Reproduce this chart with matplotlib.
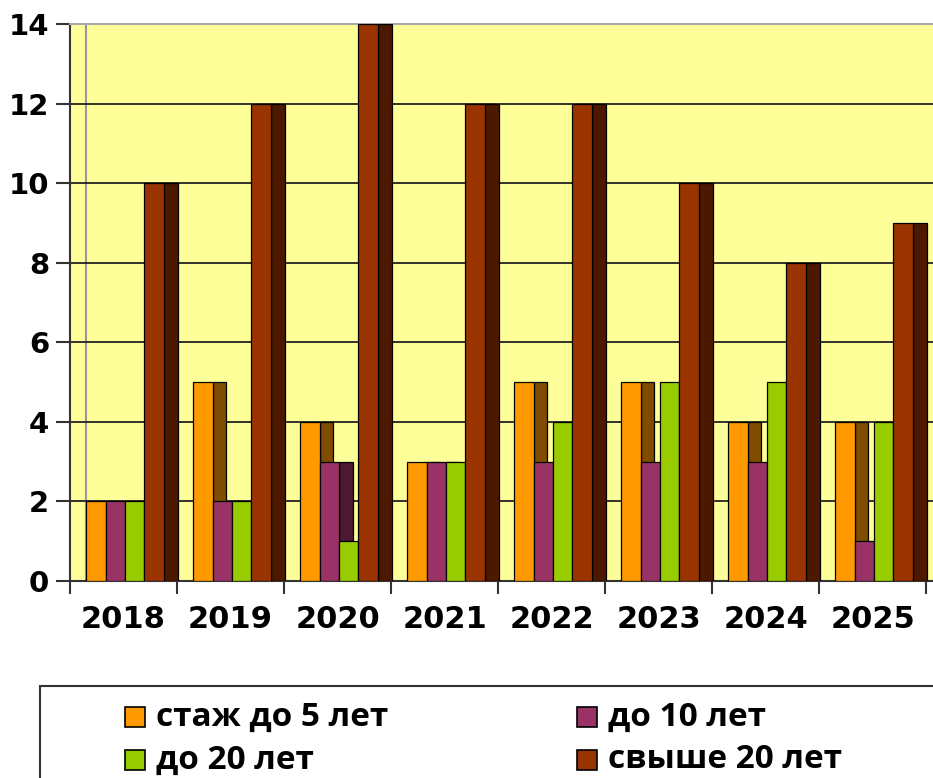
import matplotlib
matplotlib.use("Agg")
import matplotlib.pyplot as plt
from matplotlib.patches import Rectangle

years = ["2018", "2019", "2020", "2021", "2022", "2023", "2024", "2025"]
stazh_5 = [2, 5, 4, 3, 5, 5, 4, 4]
do_10 = [2, 2, 3, 3, 3, 3, 3, 1]
do_20 = [2, 2, 1, 3, 4, 5, 5, 4]
svyshe_20 = [10, 12, 14, 12, 12, 10, 8, 9]

labels = ["стаж до 5 лет", "до 10 лет", "до 20 лет", "свыше 20 лет"]
series = [stazh_5, do_10, do_20, svyshe_20]
front = ["#FF9900", "#993366", "#99CC00", "#993300"]
side = ["#7F4C00", "#4C1933", "#4C6600", "#4C1900"]

fig = plt.figure(figsize=(9.33, 7.78), dpi=100)
ax = fig.add_axes([70/933, 1-581/778, 863/933, 557/778])
ax.set_facecolor("#FFFF99")

lead, w, d = 0.15, 0.182, 0.13
for i, vals in enumerate(series):
    xs = [g + lead + i*w for g in range(len(years))]
    # darker side face first, then the front face on top
    ax.bar([x + w for x in xs], vals, width=d, align="edge", color=side[i],
           edgecolor="black", linewidth=0.9, zorder=3 + 2*i)
    ax.bar(xs, vals, width=w, align="edge", color=front[i],
           edgecolor="black", linewidth=0.9, zorder=4 + 2*i)

ax.set_xlim(0, 863/107)
ax.set_ylim(0, 14)
ax.set_yticks(range(0, 15, 2))
ax.yaxis.grid(True, color="#222222", linewidth=1.3, zorder=1)
ax.axvline(0.15, color="#999999", linewidth=1.5, zorder=1)
ax.set_xticks(range(0, 9))
ax.set_xticklabels([])
ax.set_xticks([g + 0.5 for g in range(len(years))], minor=True)
ax.set_xticklabels(years, minor=True, fontsize=22, fontweight="bold")
ax.tick_params(axis="x", which="minor", length=0, pad=17)
ax.tick_params(axis="x", which="major", length=9, width=1.5, color="#333333")
ax.tick_params(axis="y", length=10, width=1.5, color="#333333",
               labelsize=21, pad=5)
for t in ax.get_yticklabels():
    t.set_fontweight("bold")
ax.spines["right"].set_visible(False)
ax.spines["top"].set_color("#AAAAAA")
ax.spines["top"].set_linewidth(1.5)
for s in ["left", "bottom"]:
    ax.spines[s].set_color("#333333")
    ax.spines[s].set_linewidth(1.5)

# legend box
fig.patches.append(Rectangle((40/933, -0.01), 0.97, 100/778, transform=fig.transFigure,
                             facecolor="white", edgecolor="#333333", linewidth=1.5))
pos = [(125, 717), (577, 717), (125, 760), (577, 760)]
for i, lab in enumerate(labels):
    px, py = pos[i]
    fig.patches.append(Rectangle((px/933, 1-(py+10)/778), 20/933, 20/778,
                                 transform=fig.transFigure, facecolor=front[i],
                                 edgecolor="black", linewidth=1.2))
    fig.text((px+31)/933, 1-py/778, lab, fontsize=24, fontweight="bold",
             family="Open Sans", va="center", ha="left")

fig.savefig("out.png", dpi=100)
